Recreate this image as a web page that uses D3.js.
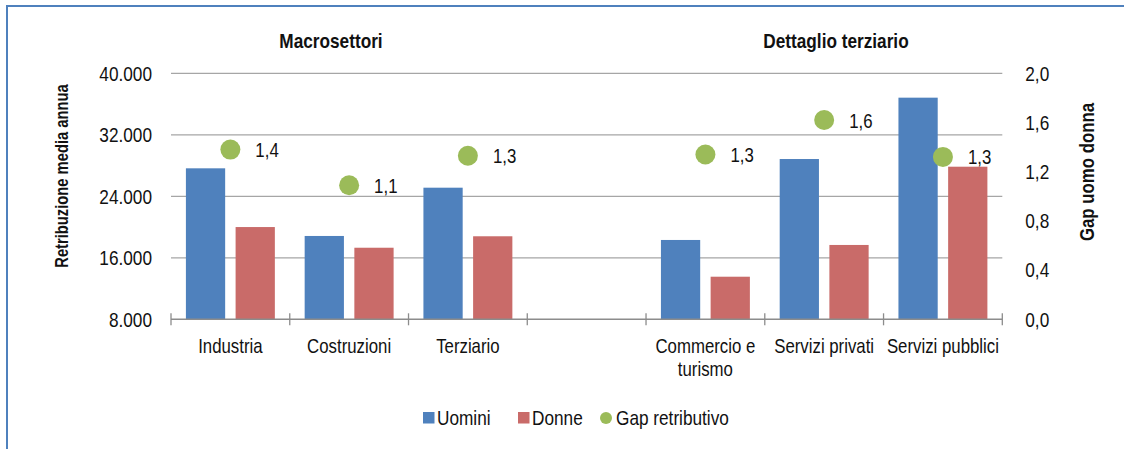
<!DOCTYPE html>
<html>
<head>
<meta charset="utf-8">
<script src="https://cdn.jsdelivr.net/npm/d3@7"></script>
<style>
  body { margin: 0; background: #fff; }
  svg text { font-family: "Liberation Sans", Arial, sans-serif; fill: #111; }
  .bold { font-weight: bold; }
</style>
</head>
<body>
<svg id="chart" width="1124" height="449"></svg>
<script>
// categories (the empty one is the gap between the two groups)
const categories = ['Industria', 'Costruzioni', 'Terziario', '', 'Commercio e\nturismo', 'Servizi privati', 'Servizi pubblici'];
const uomini = [27640, 18840, 25120, null, 18320, 28850, 36830];
const donne  = [20000, 17310, 18800, null, 13540, 17670, 27850];
const gap    = [1.38, 1.09, 1.33, null, 1.34, 1.62, 1.32];
const leftTicks  = [8000, 16000, 24000, 32000, 40000];
const rightTicks = [0, 0.4, 0.8, 1.2, 1.6, 2.0];
const groupTitles = [{name: 'Macrosettori', x: 331}, {name: 'Dettaglio terziario', x: 836}];
const legendItems = [
  {name: 'Uomini', color: '#4f81bd', shape: 'rect'},
  {name: 'Donne', color: '#c96b69', shape: 'rect'},
  {name: 'Gap retributivo', color: '#9bbb59', shape: 'circle'}
];

const it = d3.formatLocale({decimal: ',', thousands: '.', grouping: [3], currency: ['€', '']});
const fmtK = it.format(',.0f'), fmt1 = it.format('.1f');

// no Arial Narrow here: squeeze Liberation Sans horizontally around the anchor x
const NARROW = 0.82;
function narrow(sel) {
  sel.each(function() {
    const ax = +(this.getAttribute('x') || 0);
    d3.select(this).attr('transform', `translate(${ax},0) scale(${NARROW},1) translate(${-ax},0)`);
  });
}

const svg = d3.select('#chart');
const m = {left: 171, right: 1002.3, top: 73.3, bottom: 319.3};

// blue frame
svg.append('rect').attr('x', 7).attr('y', 6).attr('width', 1130).attr('height', 460)
  .attr('fill', 'none').attr('stroke', '#4f81bd').attr('stroke-width', 2);

const x = d3.scaleBand().domain(categories).range([m.left, m.right]);
const x1 = d3.scaleBand().domain(['u', 'd']).range([0, x.bandwidth()]).paddingInner(0.21).paddingOuter(0.3);
const y = d3.scaleLinear().domain([8000, 40000]).range([m.bottom, m.top]);
const y2 = d3.scaleLinear().domain([0, 2]).range([m.bottom, m.top]);

// gridlines
svg.append('g').selectAll('line').data(leftTicks.slice(1)).join('line')
  .attr('x1', m.left).attr('x2', m.right)
  .attr('y1', d => y(d)).attr('y2', d => y(d))
  .attr('stroke', '#a6a6a6').attr('stroke-width', 1.3);

// left axis labels
const gl = svg.append('g').attr('transform', `translate(${m.left - 19},0)`)
  .call(d3.axisLeft(y).tickValues(leftTicks).tickSize(0).tickFormat(fmtK));
gl.select('.domain').remove();
gl.selectAll('text').style('font-size', '21px').attr('x', 0).call(narrow);

// right axis labels
const gr = svg.append('g').attr('transform', `translate(${m.right + 23},0)`)
  .call(d3.axisRight(y2).tickValues(rightTicks).tickSize(0).tickFormat(fmt1));
gr.select('.domain').remove();
gr.selectAll('text').style('font-size', '21px').attr('x', 0).call(narrow);

// bars
const rows = categories.map((c, i) => ({c, u: uomini[i], d: donne[i], g: gap[i]})).filter(r => r.u != null);
const g = svg.append('g');
g.selectAll('.bu').data(rows).join('rect').attr('class', 'bu')
  .attr('x', d => x(d.c) + x1('u')).attr('width', x1.bandwidth())
  .attr('y', d => y(d.u)).attr('height', d => y(8000) - y(d.u))
  .attr('fill', '#4f81bd');
g.selectAll('.bd').data(rows).join('rect').attr('class', 'bd')
  .attr('x', d => x(d.c) + x1('d')).attr('width', x1.bandwidth())
  .attr('y', d => y(d.d)).attr('height', d => y(8000) - y(d.d))
  .attr('fill', '#c96b69');

// bottom axis line and tick marks at category edges
svg.append('line').attr('x1', m.left).attr('x2', m.right).attr('y1', m.bottom).attr('y2', m.bottom)
  .attr('stroke', '#8c8c8c').attr('stroke-width', 1.5);
svg.append('g').selectAll('line').data(categories.map(c => x(c)).concat([m.right])).join('line')
  .attr('x1', d => d).attr('x2', d => d).attr('y1', m.bottom - 6).attr('y2', m.bottom + 6)
  .attr('stroke', '#8c8c8c').attr('stroke-width', 1.3);

// category labels
svg.append('g').selectAll('text').data(categories).join('text')
  .attr('x', d => x(d) + x.bandwidth() / 2).attr('y', 353)
  .attr('text-anchor', 'middle').style('font-size', '20.5px')
  .call(narrow)
  .selectAll('tspan').data(d => d.split('\n')).join('tspan')
  .attr('x', function() { return this.parentNode.getAttribute('x'); })
  .attr('dy', (d, i) => i ? 23.5 : 0).text(d => d);

// gap dots and labels
g.selectAll('circle').data(rows).join('circle')
  .attr('cx', d => x(d.c) + x.bandwidth() / 2).attr('cy', d => y2(d.g)).attr('r', 10)
  .attr('fill', '#9bbb59');
g.selectAll('.lab').data(rows).join('text').attr('class', 'lab')
  .attr('x', d => x(d.c) + x.bandwidth() / 2 + 25).attr('y', d => y2(d.g) + 7.5)
  .style('font-size', '20.5px').text(d => fmt1(d.g)).call(narrow);

// group titles
svg.append('g').selectAll('text').data(groupTitles).join('text')
  .attr('class', 'bold').attr('x', d => d.x).attr('y', 48.5)
  .attr('text-anchor', 'middle').style('font-size', '21px').text(d => d.name).call(narrow);

// axis titles
svg.append('text').attr('class', 'bold').attr('transform', `translate(68,176) rotate(-90) scale(${NARROW},1)`)
  .attr('text-anchor', 'middle').style('font-size', '18px').text('Retribuzione media annua');
svg.append('text').attr('class', 'bold').attr('transform', `translate(1094,172) rotate(-90) scale(${NARROW},1)`)
  .attr('text-anchor', 'middle').style('font-size', '20.5px').text('Gap uomo donna');

// legend
const legX = [423, 518, 600];
const lg = svg.append('g').selectAll('g').data(legendItems).join('g')
  .attr('transform', (d, i) => `translate(${legX[i]},412)`);
lg.filter(d => d.shape === 'rect').append('rect').attr('width', 11.5).attr('height', 11.5).attr('fill', d => d.color);
lg.filter(d => d.shape === 'circle').append('circle').attr('cx', 6).attr('cy', 6).attr('r', 6).attr('fill', d => d.color);
lg.append('text').attr('x', d => d.shape === 'rect' ? 14 : 16).attr('y', 12.5)
  .style('font-size', '21px').text(d => d.name).call(narrow);
</script>
</body>
</html>
